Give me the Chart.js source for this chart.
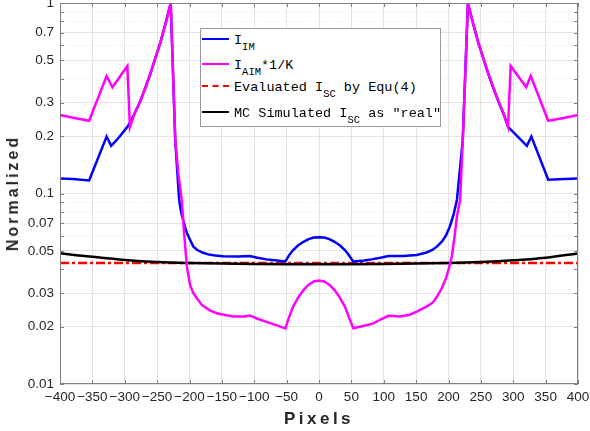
<!DOCTYPE html>
<html>
<head>
<meta charset="utf-8">
<script src="https://cdn.jsdelivr.net/npm/chart.js@4.4.0/dist/chart.umd.min.js"></script>
<style>
body { margin: 0; background: #fff; }
#caixa { position: relative; width: 590px; height: 431px; }
.legenda {
    position: absolute; left: 200px; top: 28px; width: 239px; height: 97px;
    border: 1px solid #9a9a9a; background: #fff;
    font-family: "Liberation Mono", monospace; font-size: 13.5px; color: #000;
}
.item { position: absolute; left: 1px; height: 20px; line-height: 20px; white-space: nowrap; }
.traco { display: inline-block; width: 27px; height: 0; border-top: 2.5px solid; margin-right: 5px; vertical-align: middle; position: relative; top: -1px; }
.item sub { font-size: 10.5px; position: relative; top: 6px; vertical-align: baseline; line-height: 0; }
.tituloX {
    position: absolute; left: 219px; top: 409px; width: 200px; text-align: center;
    font-family: "Liberation Sans", sans-serif; font-weight: bold; font-size: 17px;
    letter-spacing: 3.5px; color: #262626;
}
.tituloY {
    position: absolute; left: 13px; top: 193px; transform: translate(-50%, -50%) rotate(-90deg);
    font-family: "Liberation Sans", sans-serif; font-weight: bold; font-size: 16px;
    letter-spacing: 3px; color: #262626; white-space: nowrap;
}
</style>
</head>
<body>
<div id="caixa">
    <canvas id="grafico"></canvas>
    <div class="legenda">
        <div class="item" style="top:2px"><span class="traco" style="border-color:#0000ff"></span><span>I<sub>IM</sub></span></div>
        <div class="item" style="top:27px"><span class="traco" style="border-color:#ff00ff"></span><span>I<sub>AIM</sub>*1/K</span></div>
        <div class="item" style="top:49px"><span class="traco" style="border-color:#ff0000;border-top-style:dashed"></span><span>Evaluated I<sub>SC</sub> by Equ(4)</span></div>
        <div class="item" style="top:75px"><span class="traco" style="border-color:#000"></span><span>MC Simulated I<sub>SC</sub> as "real"</span></div>
    </div>
    <div class="tituloX">Pixels</div>
    <div class="tituloY">Normalized</div>
</div>
<script>
// dados
let pixelsIM = [-400, -380, -355, -328, -321, -310, -295, -285, -276, -268, -261, -253, -245, -237, -229, -222, -216, -213, -210, -207, -204, -199, -194, -188, -180, -170, -160, -148, -125, -107, -95, -81, -65, -52, -46, -40, -32, -24, -16, -8, 0, 8, 16, 24, 32, 40, 46, 53, 70, 81, 95, 107, 130, 151, 166, 175, 182, 190, 196, 202, 208, 213, 222, 230, 238, 246, 254, 262, 269, 277, 285, 292, 321, 328, 354, 380, 400];
let valoresIM = [0.120, 0.119, 0.117, 0.199, 0.178, 0.195, 0.226, 0.262, 0.305, 0.36, 0.42, 0.51, 0.62, 0.78, 1, 0.19, 0.0925, 0.080, 0.073, 0.067, 0.062, 0.057, 0.0526, 0.0505, 0.049, 0.0478, 0.0472, 0.0469, 0.0467, 0.0470, 0.0460, 0.0451, 0.0445, 0.0440, 0.0475, 0.0505, 0.0535, 0.0558, 0.0576, 0.0587, 0.059, 0.0587, 0.0576, 0.0558, 0.0535, 0.0505, 0.0475, 0.0439, 0.0445, 0.0451, 0.0460, 0.0470, 0.0470, 0.0476, 0.049, 0.0505, 0.0526, 0.056, 0.060, 0.067, 0.078, 0.0925, 0.19, 1, 0.78, 0.62, 0.51, 0.42, 0.36, 0.305, 0.262, 0.224, 0.178, 0.199, 0.118, 0.119, 0.120];

let pixelsAIM = [-400, -380, -355, -328, -319, -296, -292, -285, -276, -268, -261, -253, -245, -237, -229, -222, -217, -212, -208, -204, -199, -194, -188, -181, -170, -158, -145, -132, -115, -107, -95, -81, -65, -52, -46, -40, -32, -24, -16, -8, 0, 8, 16, 24, 32, 40, 46, 53, 70, 84, 95, 107, 125, 140, 151, 166, 176, 182, 190, 197, 201, 205, 209, 213, 218, 222, 230, 238, 246, 254, 262, 269, 277, 285, 292, 296, 320, 327, 354, 380, 400];
let valoresAIM = [0.258, 0.250, 0.241, 0.414, 0.361, 0.467, 0.223, 0.262, 0.305, 0.36, 0.42, 0.51, 0.62, 0.78, 1, 0.19, 0.125, 0.0925, 0.06, 0.0413, 0.033, 0.030, 0.028, 0.026, 0.0245, 0.0235, 0.023, 0.0226, 0.0226, 0.0229, 0.022, 0.0212, 0.0203, 0.0196, 0.0225, 0.0255, 0.0285, 0.0311, 0.0332, 0.0345, 0.0349, 0.0345, 0.0332, 0.0311, 0.0285, 0.0255, 0.0225, 0.0196, 0.0202, 0.0208, 0.0218, 0.0228, 0.0226, 0.0231, 0.0240, 0.0255, 0.0268, 0.0287, 0.032, 0.0366, 0.041, 0.0466, 0.058, 0.0755, 0.0925, 0.19, 1, 0.78, 0.62, 0.51, 0.42, 0.36, 0.305, 0.262, 0.224, 0.467, 0.361, 0.414, 0.241, 0.250, 0.258];

let pixelsEqu = [-400, 400];
let valoresEqu = [0.0432, 0.0432];

let pixelsMC = [-400, -350, -300, -250, -200, -100, 0, 100, 200, 250, 300, 350, 400];
let valoresMC = [0.0485, 0.0465, 0.0448, 0.0437, 0.0432, 0.0427, 0.0425, 0.0427, 0.0432, 0.0437, 0.0446, 0.046, 0.0485];

let ticksX = [-400, -350, -300, -250, -200, -150, -100, -50, 0, 50, 100, 150, 200, 250, 300, 350, 400];
let rotulosX = ['\u2212400', '\u2212350', '\u2212300', '\u2212250', '\u2212200', '\u2212150', '\u2212100', '\u221250', '0', '50', '100', '150', '200', '250', '300', '350', '400'];
let ticksY = [0.01, 0.02, 0.03, 0.05, 0.07, 0.1, 0.2, 0.3, 0.5, 0.7, 1];
let rotulosY = ['0.01', '0.02', '0.03', '0.05', '0.07', '0.1', '0.2', '0.3', '0.5', '0.7', '1'];
let ticksYMenor = [0.04, 0.06, 0.08, 0.09, 0.4, 0.6, 0.8, 0.9];

function juntar(xs, ys) {
    let pontos = [];
    for (let i = 0; i < xs.length; i++) {
        pontos.push({ x: xs[i], y: ys[i] });
    }
    return pontos;
}

// moldura do eixo com os tracinhos para dentro, igual ao matlab
const moldura = {
    id: 'moldura',
    afterDraw(chart) {
        const ctx = chart.ctx;
        const a = chart.chartArea;
        const sx = chart.scales.x;
        const sy = chart.scales.y;
        ctx.save();
        ctx.strokeStyle = '#7f7f7f';
        ctx.lineWidth = 1;
        ctx.strokeRect(a.left + 0.5, a.top + 0.5, a.right - a.left - 1, a.bottom - a.top - 1);
        ctx.beginPath();
        for (let v of ticksX) {
            let px = Math.round(sx.getPixelForValue(v)) + 0.5;
            ctx.moveTo(px, a.bottom); ctx.lineTo(px, a.bottom - 4);
            ctx.moveTo(px, a.top); ctx.lineTo(px, a.top + 4);
        }
        for (let v of ticksY.concat(ticksYMenor)) {
            let py = Math.round(sy.getPixelForValue(v)) + 0.5;
            ctx.moveTo(a.left, py); ctx.lineTo(a.left + 4, py);
            ctx.moveTo(a.right, py); ctx.lineTo(a.right - 4, py);
        }
        ctx.stroke();
        ctx.restore();
    }
};

const fonteTicks = { family: 'Liberation Sans', size: 13.5 };

new Chart(document.getElementById('grafico'), {
    type: 'line',
    data: {
        datasets: [{
            label: 'I_IM',
            data: juntar(pixelsIM, valoresIM),
            borderColor: '#0000ff',
            borderWidth: 2.5,
            order: 1
        }, {
            label: 'I_AIM*1/K',
            data: juntar(pixelsAIM, valoresAIM),
            borderColor: '#ff00ff',
            borderWidth: 2.5,
            order: 0
        }, {
            label: 'Evaluated I_SC by Equ(4)',
            data: juntar(pixelsEqu, valoresEqu),
            borderColor: '#ff0000',
            borderWidth: 2.5,
            borderDash: [9, 3, 3, 3],
            order: 3
        }, {
            label: 'MC Simulated I_SC as "real"',
            data: juntar(pixelsMC, valoresMC),
            borderColor: '#000000',
            borderWidth: 2.5,
            tension: 0.4,
            order: 2
        }]
    },
    options: {
        responsive: true,
        maintainAspectRatio: false,
        animation: false,
        layout: { padding: { top: 3, right: 12, left: 0, bottom: 0 } },
        elements: { point: { radius: 0 } },
        plugins: {
            legend: { display: false },
            tooltip: { enabled: false }
        },
        scales: {
            x: {
                type: 'linear',
                min: -400,
                max: 400,
                afterBuildTicks: function (s) { s.ticks = ticksX.map(v => ({ value: v })); },
                afterFit: function (s) { s.height = 47; s.paddingLeft = 0; s.paddingRight = 0; },
                ticks: {
                    callback: function (v, i) { return rotulosX[i]; },
                    font: fonteTicks,
                    color: '#262626',
                    padding: 5,
                    maxRotation: 0,
                    autoSkip: false
                },
                grid: { color: '#e3e3e3', drawTicks: false },
                border: { display: false }
            },
            y: {
                type: 'logarithmic',
                min: 0.01,
                max: 1,
                afterBuildTicks: function (s) { s.ticks = ticksY.map(v => ({ value: v })); },
                afterFit: function (s) { s.width = 60; s.paddingTop = 0; s.paddingBottom = 0; },
                ticks: {
                    callback: function (v, i) { return rotulosY[i]; },
                    font: fonteTicks,
                    color: '#262626',
                    padding: 6,
                    autoSkip: false
                },
                grid: { color: '#e3e3e3', drawTicks: false },
                border: { display: false }
            },
            yMenor: {
                type: 'logarithmic',
                position: 'right',
                min: 0.01,
                max: 1,
                afterBuildTicks: function (s) { s.ticks = ticksYMenor.map(v => ({ value: v })); },
                afterFit: function (s) { s.width = 0; s.paddingTop = 0; s.paddingBottom = 0; },
                ticks: { display: false },
                grid: { color: '#e6e6e6', drawTicks: false },
                border: { display: false, dash: [1, 2] }
            }
        }
    },
    plugins: [moldura]
});
</script>
</body>
</html>
